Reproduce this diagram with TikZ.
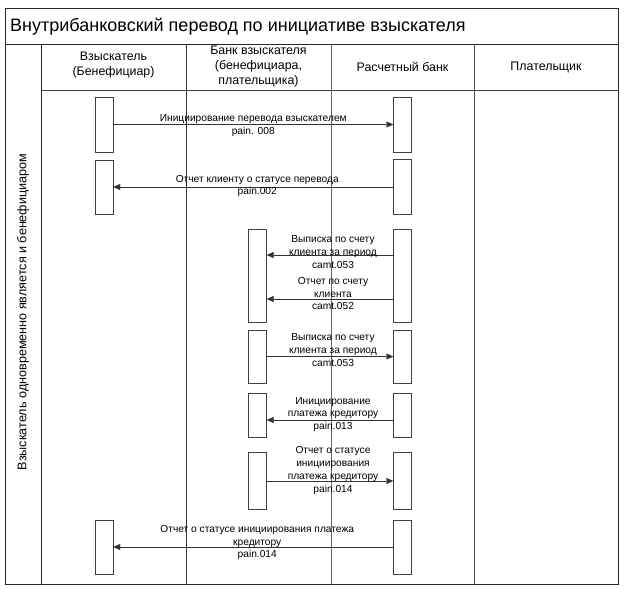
\documentclass[tikz,border=0pt]{standalone}
\usepackage{fontspec}
\setmainfont{Liberation Sans}
\usetikzlibrary{arrows.meta}
\tikzset{
  actbox/.style={draw=black!75, minimum width=18pt, inner sep=0pt},
  msg/.style={draw=black!80, -{Triangle[length=7pt,width=6pt]}},
  msgtext/.style={align=center, font=\fontsize{10.2}{12.8}\selectfont, inner sep=0pt},
  hdrtext/.style={align=center, font=\fontsize{12.4}{15}\selectfont, inner sep=0pt},
}
\begin{document}
\begin{tikzpicture}[x=1pt,y=-1pt]
  \useasboundingbox (0,0) rectangle (625,589);
  % frame and lanes
  \draw[black!85, line width=1pt] (5,8) rectangle (618,584);
  \draw[black!85] (5,44) -- (618,44);
  \draw[black!85] (41,44) -- (41,584);
  \draw[black!75] (41,90) -- (618,90);
  \draw[black!80] (186,44) -- (186,584);
  \draw[black!60] (331,44) -- (331,584);
  \draw[black!70] (474,44) -- (474,584);
  \node[anchor=west, font=\fontsize{18}{21}\selectfont, inner sep=0pt] (title) at (10,26.5)
    {Внутрибанковский перевод по инициативе взыскателя};
  \node[rotate=90, font=\fontsize{12.6}{14}\selectfont, inner sep=0pt] (side) at (23,312)
    {Взыскатель одновременно является и бенефициаром};
  % headers
  \node[hdrtext] (hdr1) at (113.5,65) {Взыскатель\\(Бенефициар)};
  \node[hdrtext] (hdr2) at (258.5,67) {Банк взыскателя\\(бенефициара,\\плательщика)};
  \node[hdrtext] (hdr3) at (402.5,67) {Расчетный банк};
  \node[hdrtext] (hdr4) at (546,67) {Плательщик};
  % activation boxes
  \node[actbox, minimum height=55pt] (s1) at (104,124.5) {};
  \node[actbox, minimum height=54pt] (s2) at (104,187) {};
  \node[actbox, minimum height=54pt] (s3) at (104,547) {};
  \node[actbox, minimum height=93pt] (b1) at (257.5,275.5) {};
  \node[actbox, minimum height=53pt] (b2) at (257.5,356.5) {};
  \node[actbox, minimum height=44pt] (b3) at (257.5,415) {};
  \node[actbox, minimum height=57pt] (b4) at (257.5,481) {};
  \node[actbox, minimum height=55pt] (r1) at (402.5,124.5) {};
  \node[actbox, minimum height=55pt] (r2) at (402.5,187) {};
  \node[actbox, minimum height=93pt] (r3) at (402.5,275.5) {};
  \node[actbox, minimum height=53pt] (r4) at (402.5,356.5) {};
  \node[actbox, minimum height=44pt] (r5) at (402.5,415) {};
  \node[actbox, minimum height=57pt] (r6) at (402.5,481) {};
  \node[actbox, minimum height=54pt] (r7) at (402.5,547) {};
  % messages
  \draw[msg] (s1.east) -- (r1.west)
    node[msgtext, midway, yshift=-1pt] {Инициирование перевода взыскателем\\pain. 008};
  \draw[msg] (r2.west) -- (s2.east)
    node[msgtext, midway, xshift=4pt, yshift=1pt] {Отчет клиенту о статусе перевода\\pain.002};
  \draw[msg] ([yshift=20.5pt]r3.west) -- ([yshift=20.5pt]b1.east)
    node[msgtext, midway, xshift=3pt, yshift=3pt] {Выписка по счету\\клиента за период\\camt.053};
  \draw[msg] ([yshift=-23.5pt]r3.west) -- ([yshift=-23.5pt]b1.east)
    node[msgtext, midway, xshift=3pt, yshift=5.5pt] {Отчет по счету\\клиента\\camt.052};
  \draw[msg] (b2.east) -- (r4.west)
    node[msgtext, midway, xshift=3pt, yshift=6.5pt] {Выписка по счету\\клиента за период\\camt.053};
  \draw[msg] ([yshift=-5pt]r5.west) -- ([yshift=-5pt]b3.east)
    node[msgtext, midway, xshift=3pt, yshift=5.5pt] {Инициирование\\платежа кредитору\\pain.013};
  \draw[msg] (b4.east) -- (r6.west)
    node[msgtext, midway, xshift=3pt, yshift=10.5pt] {Отчет о статусе\\инициирования\\платежа кредитору\\pain.014};
  \draw[msg] (r7.west) -- (s3.east)
    node[msgtext, midway, xshift=4pt, yshift=4.5pt] {Отчет о статусе инициирования платежа\\кредитору\\pain.014};
\end{tikzpicture}
\end{document}
